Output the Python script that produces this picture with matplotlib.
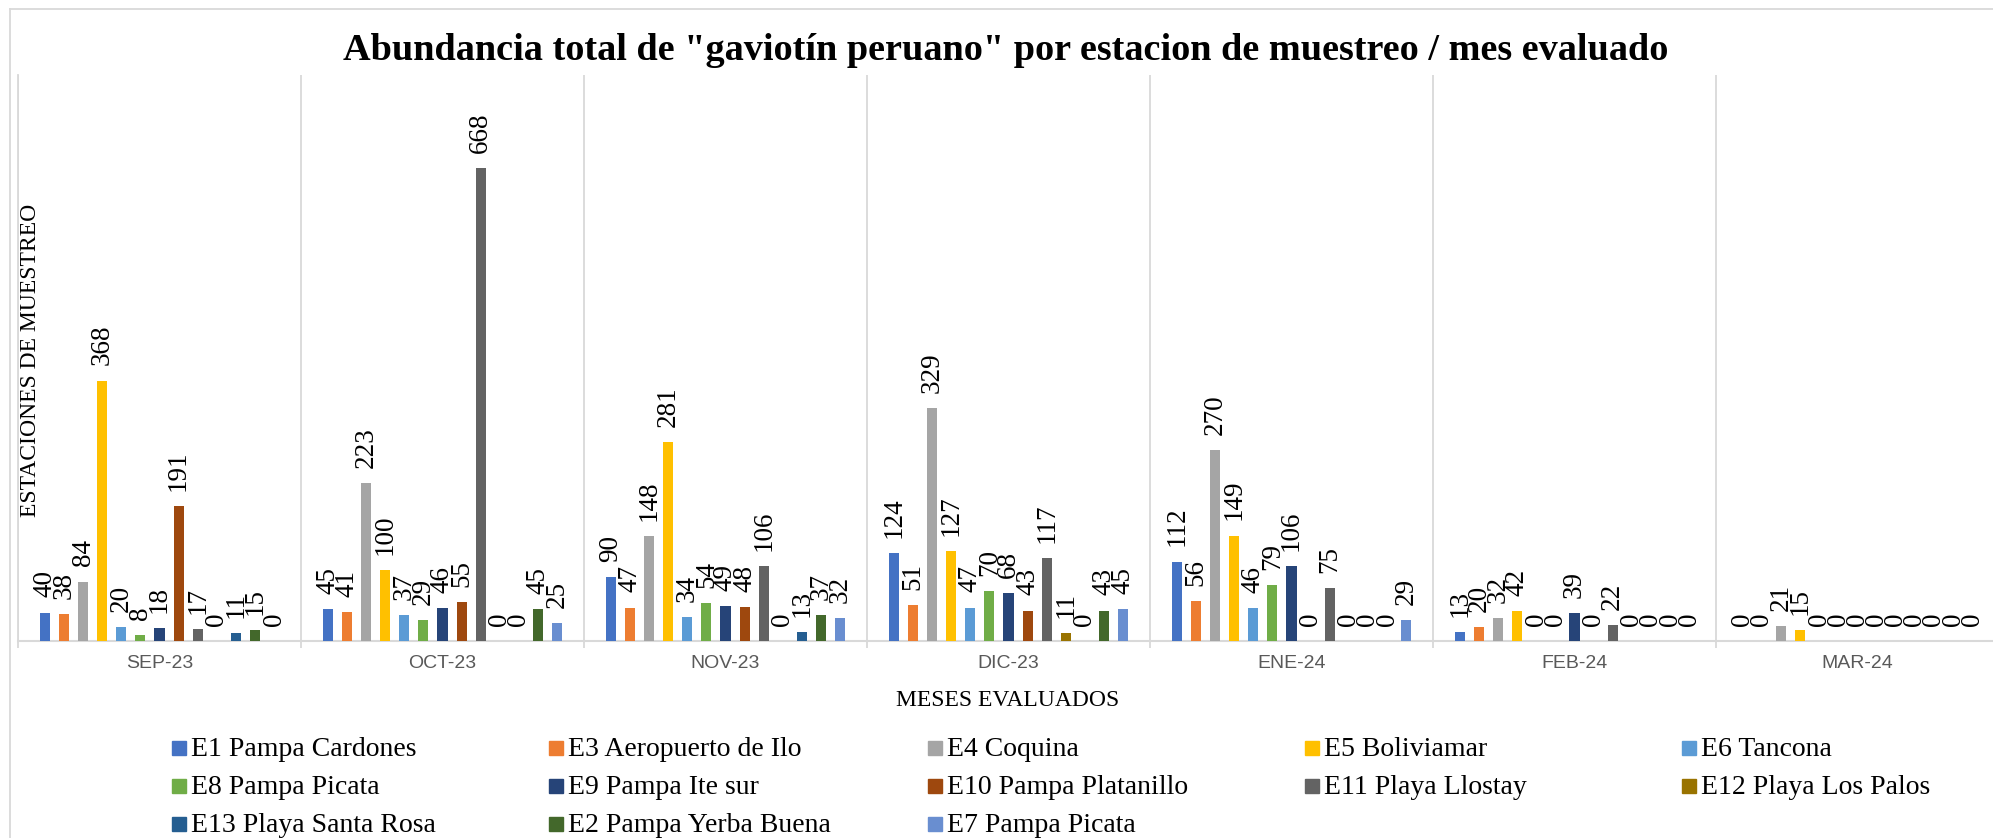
import matplotlib
matplotlib.use("Agg")
import matplotlib.pyplot as plt
from matplotlib.patches import Rectangle
from matplotlib.lines import Line2D
import numpy as np

months = ["SEP-23", "OCT-23", "NOV-23", "DIC-23", "ENE-24", "FEB-24", "MAR-24"]
stations = ["E1 Pampa Cardones", "E3 Aeropuerto de Ilo", "E4 Coquina", "E5 Boliviamar",
            "E6 Tancona", "E8 Pampa Picata", "E9 Pampa Ite sur", "E10 Pampa Platanillo",
            "E11 Playa Llostay", "E12 Playa Los Palos", "E13 Playa Santa Rosa",
            "E2 Pampa Yerba Buena", "E7 Pampa Picata"]
colors = ["#4472C4", "#ED7D31", "#A5A5A5", "#FFC000", "#5B9BD5", "#70AD47", "#264478",
          "#9E480E", "#636363", "#997300", "#255E91", "#43682B", "#698ED0"]

e1 = [40, 45, 90, 124, 112, 13, 0]
e3 = [38, 41, 47, 51, 56, 20, 0]
e4 = [84, 223, 148, 329, 270, 32, 21]
e5 = [368, 100, 281, 127, 149, 42, 15]
e6 = [20, 37, 34, 47, 46, 0, 0]
e8 = [8, 29, 54, 70, 79, 0, 0]
e9 = [18, 46, 49, 68, 106, 39, 0]
e10 = [191, 55, 48, 43, 0, 0, 0]
e11 = [17, 668, 106, 117, 75, 22, 0]
e12 = [0, 0, 0, 11, 0, 0, 0]
e13 = [11, 0, 13, 0, 0, 0, 0]
e2 = [15, 45, 37, 43, 0, 0, 0]
e7 = [0, 25, 32, 45, 29, 0, 0]
series = [e1, e3, e4, e5, e6, e8, e9, e10, e11, e12, e13, e2, e7]

title = 'Abundancia total de "gaviotín peruano" por estacion de muestreo / mes evaluado'
xlabel = "MESES EVALUADOS"
ylabel = "ESTACIONES DE MUESTREO"

W, H = 1993, 838
fig = plt.figure(figsize=(W / 100, H / 100), dpi=100)
SERIF = ["Liberation Serif", "DejaVu Serif"]
GRID = "#D9D9D9"

# axes placement (pixels)
ax_left, ax_right, ax_top, ax_bottom = 18, 1999, 75, 641
ax = fig.add_axes([ax_left / W, 1 - ax_bottom / H, (ax_right - ax_left) / W, (ax_bottom - ax_top) / H])

x = np.arange(len(months))
n = len(series)
step = 0.0675
bw = 0.036
for j, (vals, name, col) in enumerate(zip(series, stations, colors)):
    offs = (j - (n - 1) / 2) * step
    bars = ax.bar(x + offs, vals, width=bw, color=col, label=name, zorder=3)
    ax.bar_label(bars, labels=[str(v) for v in vals], rotation=90, padding=11,
                 fontsize=19.5, family=SERIF, color="black")

ax.set_xlim(-0.5, len(months) - 0.5)
ax.set_ylim(0, 800)
ax.set_yticks([])
ax.set_xticks(x)
ax.set_xticklabels(months, family=["Liberation Sans"], fontsize=14, color="#595959")
ax.set_xticks(np.arange(-0.5, len(months), 1.0), minor=True)
ax.tick_params(axis="x", which="major", length=0, pad=10)
ax.tick_params(axis="x", which="minor", length=5, width=1.3, color=GRID, direction="out")
ax.grid(True, axis="x", which="minor", color=GRID, lw=1.3, zorder=0)
for s in ["top", "right"]:
    ax.spines[s].set_visible(False)
ax.spines["bottom"].set_color(GRID)
ax.spines["bottom"].set_linewidth(1.5)
ax.spines["left"].set_color(GRID)
ax.spines["left"].set_linewidth(1.3)
ax.set_facecolor("none")

# chart border
fig.add_artist(Line2D([10 / W, 10 / W], [0, 1 - 9 / H], transform=fig.transFigure, color=GRID, lw=1.3))
fig.add_artist(Line2D([10 / W, 1], [1 - 9 / H, 1 - 9 / H], transform=fig.transFigure, color=GRID, lw=1.3))

fig.text(1006 / W, 1 - 51 / H, title, ha="center", va="center", fontsize=27.5,
         fontweight="bold", family=SERIF)
fig.text(1008 / W, 1 - 700 / H, xlabel, ha="center", va="center", fontsize=17, family=SERIF)
fig.text(31 / W, 1 - 360 / H, ylabel, ha="center", va="center", rotation=90, fontsize=17, family=SERIF)

# legend (5 columns, uniform spacing like the original)
col_x = [172, 549, 928, 1305, 1682]
row_y = [748, 786, 824]
sq = 14
for k, (name, col) in enumerate(zip(stations, colors)):
    r, c = divmod(k, 5)
    lx, ly = col_x[c], row_y[r]
    fig.add_artist(Rectangle((lx / W, 1 - (ly + sq / 2) / H), sq / W, sq / H,
                             transform=fig.transFigure, color=col))
    fig.text((lx + 19) / W, 1 - (ly + 1) / H, name, ha="left", va="center",
             fontsize=20, family=SERIF)

fig.savefig("out.png", dpi=100)
